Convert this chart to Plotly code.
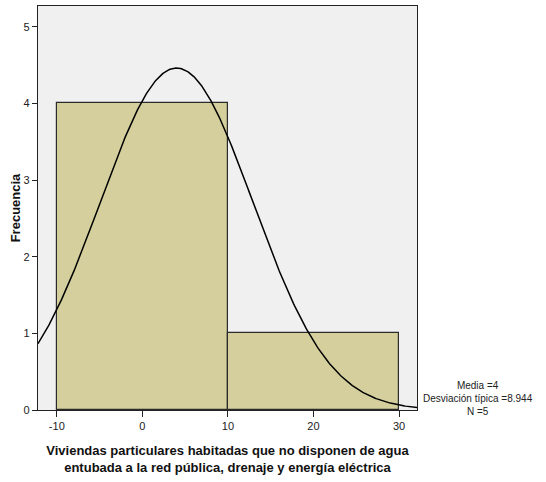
import numpy as np
import plotly.graph_objects as go

bin_edges = [-10, 10, 30]
counts = [4, 1]
mean = 4
std_dev = 8.944
n_obs = 5
x_ticks = [-10, 0, 10, 20, 30]
x_tick_labels = ["-10", "0", "10", "20", "30"]
y_ticks = [0, 1, 2, 3, 4, 5]

x_title = "Viviendas particulares habitadas que no disponen de agua<br>entubada a la red pública, drenaje y energía eléctrica"
y_title = "Frecuencia"
stats_text = f"Media ={mean}<br>Desviación típica ={std_dev}<br>N ={n_obs}"

centers = [(bin_edges[i] + bin_edges[i + 1]) / 2 for i in range(len(counts))]
widths = [bin_edges[i + 1] - bin_edges[i] for i in range(len(counts))]

xr = [-12.2, 32.1]
xs = np.linspace(xr[0], xr[1], 400)
bw = widths[0]
ys = n_obs * bw / (std_dev * np.sqrt(2 * np.pi)) * np.exp(-0.5 * ((xs - mean) / std_dev) ** 2)

fig = go.Figure()
fig.add_trace(go.Bar(x=centers, y=counts, width=widths,
                     marker=dict(color="#D4CF9C", line=dict(color="#2b2b2b", width=1.2)),
                     hoverinfo="skip"))
fig.add_trace(go.Scatter(x=xs, y=ys, mode="lines", line=dict(color="black", width=1.5),
                         hoverinfo="skip"))

font = "Liberation Sans, Arial, sans-serif"
fig.update_layout(
    width=546, height=482,
    margin=dict(l=38, r=129, t=6, b=72),
    plot_bgcolor="#F0F0F0", paper_bgcolor="white",
    showlegend=False, bargap=0,
    font=dict(family=font, size=11, color="#222"),
    xaxis=dict(range=xr, tickvals=x_ticks, ticktext=x_tick_labels, ticks="outside", ticklen=6,
               tickcolor="#222", showline=True, linecolor="#222", linewidth=1.2, mirror=True,
               showgrid=False, zeroline=False, tickfont=dict(size=11, family=font), automargin=False,
               title=dict(text=x_title, font=dict(size=13, family=font, color="#111", weight="bold"),
                          standoff=14)),
    yaxis=dict(range=[0, 5.27], tickvals=y_ticks, ticks="outside", ticklen=5, tickcolor="#222",
               showline=True, linecolor="#222", linewidth=1.2, mirror=True, showgrid=False,
               zeroline=False, tickfont=dict(size=11, family=font), automargin=False,
               title=dict(text=y_title, font=dict(size=13, family=font, color="#111", weight="bold"),
                          standoff=0)),
    annotations=[dict(text=stats_text, xref="paper", yref="paper", x=1.0, y=0.0,
                      xanchor="center", yanchor="bottom", xshift=61, yshift=-9, showarrow=False,
                      align="center", font=dict(size=10, family=font, color="#222"))],
)
fig.write_html("out.html", config={"displayModeBar": False},
               post_script="document.body.style.margin='0';document.body.style.overflow='hidden';")
